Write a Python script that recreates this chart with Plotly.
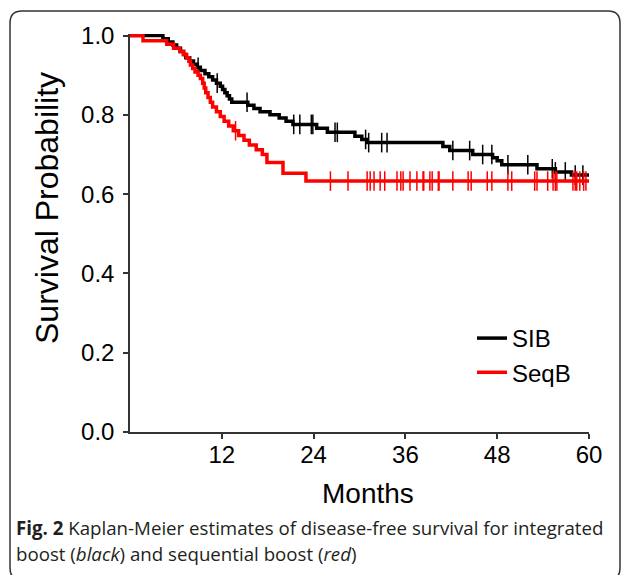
import numpy as np
import plotly.graph_objects as go

# ---------------- data ----------------
# SIB (black) step function: month at which the curve drops, and new level
sib_t = [0, 4.3, 5.0, 5.6, 6.1, 6.6, 7.0, 7.3, 7.8, 8.3, 8.8, 9.2, 9.8, 10.3,
         10.8, 11.3, 11.8, 12.1, 12.4, 12.7, 13.0, 13.3, 15.4, 16.2, 17.0,
         18.3, 19.5, 20.4, 21.3, 24.4, 25.8, 29.4, 30.3, 31.0, 40.9, 41.8,
         44.8, 47.4, 48.0, 48.6, 53.2, 55.6, 57.7, 60.0]
sib_s = [1.0, 0.992, 0.984, 0.976, 0.968, 0.960, 0.952, 0.944, 0.936, 0.928,
         0.920, 0.912, 0.904, 0.896, 0.888, 0.880, 0.872, 0.864, 0.856, 0.848,
         0.840, 0.832, 0.824, 0.816, 0.808, 0.800, 0.792, 0.784, 0.776, 0.766,
         0.756, 0.746, 0.738, 0.730, 0.720, 0.710, 0.700, 0.692, 0.684, 0.674,
         0.664, 0.656, 0.648, 0.648]
sib_cens = [8.9, 11.4, 15.3, 21.4, 22.2, 23.7, 23.9, 26.8, 27.1, 30.8, 31.2,
            32.9, 33.6, 42.2, 44.4, 46.1, 47.3, 49.4, 52.0, 55.2, 55.6, 56.9,
            58.2, 59.2]

# SeqB (red) step function
seq_t = [0, 1.7, 4.8, 5.7, 6.5, 7.0, 7.4, 7.7, 7.9, 8.2, 8.5, 8.9, 9.2, 9.5,
         9.7, 9.9, 10.2, 10.5, 10.8, 11.3, 11.8, 12.3, 12.9, 13.5, 14.2, 14.9,
         15.6, 16.5, 17.3, 17.9, 20.0, 23.0, 60.0]
seq_s = [1.0, 0.987, 0.978, 0.968, 0.960, 0.952, 0.944, 0.935, 0.926, 0.917,
         0.908, 0.900, 0.892, 0.880, 0.868, 0.856, 0.844, 0.832, 0.820, 0.808,
         0.796, 0.784, 0.772, 0.760, 0.748, 0.736, 0.724, 0.712, 0.700, 0.680,
         0.653, 0.633, 0.633]
seq_cens = [13.8, 26.2, 28.5, 31.0, 31.4, 31.9, 32.7, 33.3, 34.9, 35.4, 35.7,
            36.6, 37.5, 38.3, 38.4, 39.2, 39.5, 40.3, 40.4, 42.2, 44.2, 44.6,
            46.7, 47.3, 49.4, 49.9, 52.9, 53.2, 54.6, 55.3, 55.6, 55.8, 57.9,
            58.2, 58.4, 58.8, 59.3, 59.6]

series_names = ["SIB", "SeqB"]
y_ticks = [0.0, 0.2, 0.4, 0.6, 0.8, 1.0]
x_ticks = [12, 24, 36, 48, 60]
x_title = "Months"
y_title = "Survival Probability"
caption_bold = "Fig. 2"
caption_1 = " Kaplan-Meier estimates of disease-free survival for integrated"
caption_2 = "boost (<i>black</i>) and sequential boost (<i>red</i>)"

# ---------------- layout geometry (pixels) ----------------
W, H = 627, 575
L, R, T, B = 130, 589, 34, 432          # plot area in pixels


def px(x):
    return (x - L) / (R - L)


def py(y):
    return (B - y) / (B - T)


def level_at(ts, ss, t):
    idx = np.searchsorted(np.array(ts), t, side="right") - 1
    return [ss[i] for i in idx]


fig = go.Figure()
for name, ts, ss, cens, col in [
    (series_names[0], sib_t, sib_s, sib_cens, "#000000"),
    (series_names[1], seq_t, seq_s, seq_cens, "#ff0000"),
]:
    fig.add_trace(go.Scatter(x=ts, y=ss, mode="lines", name=name,
                             line=dict(color=col, width=3.5, shape="hv")))
    fig.add_trace(go.Scatter(x=cens, y=level_at(ts, ss, cens), mode="markers",
                             showlegend=False, hoverinfo="skip",
                             marker=dict(symbol="line-ns", size=14,
                                         line=dict(color=col, width=1.5))))

axis_col = "#333333"
font_fam = "Liberation Sans, Arial, sans-serif"
fig.update_layout(
    width=W, height=H, autosize=False,
    margin=dict(l=L, r=W - R, t=T, b=H - B, pad=0),
    paper_bgcolor="white", plot_bgcolor="white",
    font=dict(family=font_fam, color="#000000", size=24),
    xaxis=dict(range=[0, 60], tickvals=x_ticks, showgrid=False, zeroline=False,
               showline=True, linecolor=axis_col, linewidth=1.5,
               ticks="outside", ticklen=5, tickwidth=1.5, tickcolor=axis_col,
               tickfont=dict(size=24), ticklabelstandoff=-5),
    yaxis=dict(range=[0, 1.004], tickvals=y_ticks, tickformat=".1f",
               showgrid=False, zeroline=False,
               showline=True, linecolor=axis_col, linewidth=1.5,
               ticks="outside", ticklen=5, tickwidth=1.5, tickcolor=axis_col,
               tickfont=dict(size=24), ticklabelstandoff=4),
    legend=dict(x=px(472), y=py(316), xanchor="left", yanchor="top",
                bgcolor="rgba(0,0,0,0)", font=dict(size=24),
                tracegroupgap=0),
    showlegend=True,
)

# axis titles as annotations for exact placement
fig.add_annotation(text=x_title, x=px(368), y=py(494), xref="paper", yref="paper",
                   showarrow=False, font=dict(size=28), xanchor="center", yanchor="middle")
fig.add_annotation(text=y_title, x=px(47), y=py(208), xref="paper", yref="paper",
                   showarrow=False, font=dict(size=32), textangle=-90,
                   xanchor="center", yanchor="middle")

# caption
cap_font = dict(family="Open Sans, sans-serif", size=18.7, color="#231f20")
fig.add_annotation(text="<b>" + caption_bold + "</b>" + caption_1, x=px(14), y=py(527),
                   xref="paper", yref="paper", showarrow=False, font=cap_font,
                   xanchor="left", yanchor="middle", align="left")
fig.add_annotation(text=caption_2, x=px(14), y=py(553),
                   xref="paper", yref="paper", showarrow=False, font=cap_font,
                   xanchor="left", yanchor="middle", align="left")

# rounded frame around the figure
x0, x1, y0, y1, r = px(10), px(620), py(11), py(580), 12
rx, ry = r / (R - L), r / (B - T)
path = (f"M {x0+rx},{y0} L {x1-rx},{y0} Q {x1},{y0} {x1},{y0-ry} "
        f"L {x1},{y1+ry} Q {x1},{y1} {x1-rx},{y1} L {x0+rx},{y1} "
        f"Q {x0},{y1} {x0},{y1+ry} L {x0},{y0-ry} Q {x0},{y0} {x0+rx},{y0} Z")
fig.add_shape(type="path", path=path, xref="paper", yref="paper",
              line=dict(color="#333333", width=1.5), layer="below")

fig.write_html("out.html",
               config={"displayModeBar": False},
               post_script="document.body.style.margin='0px';"
                           "document.body.style.overflow='hidden';")
